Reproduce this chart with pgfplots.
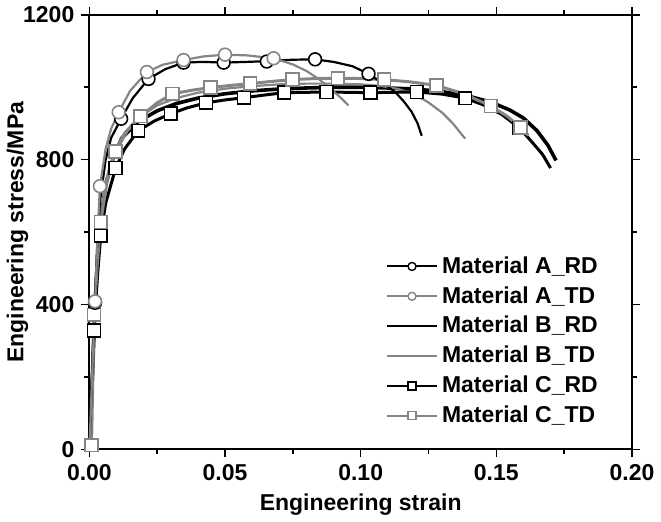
\documentclass[border=0pt]{standalone}
\usepackage{fontspec}
\setmainfont{Liberation Sans}
\usepackage{pgfplots}
\pgfplotsset{compat=1.18}
\usepackage{pgfplotstable}

\definecolor{grayLine}{HTML}{858585}

% curves: strain, stress (MPa)
\pgfplotstableread{
x y
0 0
0.001 200
0.002 405
0.003 580
0.004 690
0.006 800
0.008 860
0.0117 913
0.016 970
0.0218 1023
0.028 1050
0.0347 1068
0.042 1070
0.0495 1068
0.058 1070
0.0654 1072
0.075 1076
0.0832 1077
0.090 1070
0.097 1058
0.1029 1037
0.108 1012
0.1127 987
0.116 960
0.1188 932
0.121 900
0.1225 866
}\ARDline
\pgfplotstableread{
x y
0.0021 405
0.0117 913
0.0218 1023
0.0347 1068
0.0495 1068
0.0654 1071
0.0832 1077
0.1029 1037
}\ARDmark
\pgfplotstableread{
x y
0 0
0.001 200
0.0021 409
0.003 590
0.0039 727
0.006 830
0.008 885
0.0108 931
0.015 990
0.0212 1042
0.027 1062
0.0347 1075
0.042 1085
0.050 1090
0.058 1088
0.0679 1080
0.075 1063
0.080 1045
0.0845 1023
0.089 995
0.0925 972
0.0955 950
}\ATDline
\pgfplotstableread{
x y
0.0021 409
0.0039 727
0.0108 931
0.0212 1042
0.0347 1075
0.050 1090
0.0679 1080
}\ATDmark
\pgfplotstableread{
x y
0 0
0.001 180
0.002 380
0.003 530
0.004 620
0.006 730
0.009 810
0.012 860
0.018 905
0.025 935
0.032 955
0.040 970
0.050 982
0.060 990
0.070 995
0.080 998
0.090 1000
0.100 1000
0.110 998
0.120 995
0.130 988
0.140 975
0.148 959
0.155 937
0.160 915
0.165 880
0.169 840
0.172 798
}\BRDline
\pgfplotstableread{
x y
0 0
0.001 180
0.002 390
0.003 540
0.004 630
0.006 740
0.009 820
0.013 875
0.018 915
0.025 950
0.032 970
0.040 985
0.050 996
0.060 1003
0.070 1008
0.080 1010
0.090 1010
0.100 1008
0.108 1003
0.114 995
0.120 980
0.125 958
0.130 930
0.134 900
0.1385 858
}\BTDline
\pgfplotstableread{
x y
0 0
0.001 170
0.0017 329
0.003 480
0.0042 591
0.006 680
0.0097 777
0.013 830
0.018 880
0.024 907
0.030 927
0.036 943
0.043 957
0.050 965
0.057 971
0.064 978
0.0718 985
0.080 986
0.0874 987
0.095 986
0.1036 985
0.112 986
0.1207 987
0.130 981
0.1385 970
0.145 952
0.152 925
0.1585 888
0.163 850
0.167 815
0.170 777
}\CRDline
\pgfplotstableread{
x y
0.0017 329
0.0042 591
0.0097 777
0.018 880
0.030 927
0.043 957
0.057 971
0.0718 985
0.0874 987
0.1036 985
0.1207 987
0.1385 970
0.1585 888
}\CRDmark
\pgfplotstableread{
x y
0 0
0.0008 12
0.0017 372
0.003 520
0.0042 628
0.0065 740
0.0097 823
0.014 880
0.0189 920
0.025 957
0.0307 982
0.038 992
0.0446 999
0.052 1005
0.0593 1010
0.067 1016
0.0749 1021
0.083 1024
0.0916 1025
0.100 1024
0.1087 1021
0.118 1015
0.128 1005
0.138 982
0.148 948
0.154 920
0.1589 889
0.1618 867
}\CTDline
\pgfplotstableread{
x y
0.0008 12
0.0017 372
0.0042 628
0.0097 823
0.0189 920
0.0307 982
0.0446 999
0.0593 1010
0.0749 1021
0.0916 1025
0.1087 1021
0.128 1005
0.148 948
0.1589 889
}\CTDmark

\pgfplotsset{
  curve/.style={line width=1.1pt},
  dotsK/.style={only marks, mark size=3.2pt, mark options={fill=white, draw=black, line width=0.8pt}},
  dotsG/.style={only marks, mark size=3.2pt, mark options={fill=white, draw=grayLine, line width=0.8pt}},
}

\begin{document}
\begin{tikzpicture}
\begin{axis}[
  width=271.5pt, height=217.5pt, scale only axis,
  xmin=0, xmax=0.2, ymin=0, ymax=1200,
  xtick={0,0.05,0.1,0.15,0.2}, ytick={0,400,800,1200},
  minor x tick num=1, minor y tick num=1,
  tick align=outside, major tick length=4pt, minor tick length=2.5pt,
  axis line style={line width=1pt}, tick style={line width=0.75pt, black},
  clip=false,
  font=\fontsize{11.5}{13.5}\selectfont\bfseries,
  tick label style={font=\fontsize{11.5}{13.5}\selectfont\bfseries},
  /pgf/number format/assume math mode=true,
  xticklabel style={/pgf/number format/fixed, /pgf/number format/fixed zerofill,
    /pgf/number format/precision=2},
  yticklabel style={/pgf/number format/fixed, /pgf/number format/1000 sep={}},
  xlabel={Engineering strain}, ylabel={Engineering stress/MPa},
  label style={font=\fontsize{11.5}{13.5}\selectfont\bfseries},
  xlabel style={at={(axis description cs:0.5,0)}, anchor=center, yshift=-27.5pt},
  ylabel style={at={(axis description cs:0,0.5)}, anchor=center, yshift=36pt},
  legend style={draw=none, fill=none, at={(0.535,0.463)}, anchor=north west,
    font=\fontsize{11.5}{13.5}\selectfont\bfseries, row sep=1.1pt},
  legend cell align=left,
  legend image code/.code={\draw[#1] (0pt,0pt) -- (25pt,0pt);
    \draw[#1, only marks] plot coordinates {(12.5pt,0pt)};},
]
\addplot[curve, black, line width=1.8pt, forget plot] table {\BRDline};
\addplot[curve, grayLine, forget plot] table {\BTDline};
\addplot[curve, black, line width=1.5pt, forget plot] table {\CRDline};
\addplot[dotsK, mark=square*, forget plot] table {\CRDmark};
\addplot[curve, grayLine, line width=1.5pt, forget plot] table {\CTDline};
\addplot[dotsG, mark=square*, forget plot] table {\CTDmark};
\addplot[curve, black, forget plot] table {\ARDline};
\addplot[dotsK, mark=*, forget plot] table {\ARDmark};
\addplot[curve, grayLine, forget plot] table {\ATDline};
\addplot[dotsG, mark=*, forget plot] table {\ATDmark};

\addlegendimage{black, line width=1pt, mark=*, mark size=2pt, mark options={fill=white, draw=black, line width=0.7pt}}
\addlegendimage{grayLine, line width=1pt, mark=*, mark size=2pt, mark options={fill=white, draw=grayLine, line width=0.7pt}}
\addlegendimage{black, line width=1pt}
\addlegendimage{grayLine, line width=1pt}
\addlegendimage{black, line width=1pt, mark=square*, mark size=2pt, mark options={fill=white, draw=black, line width=0.7pt}}
\addlegendimage{grayLine, line width=1pt, mark=square*, mark size=2pt, mark options={fill=white, draw=grayLine, line width=0.7pt}}
\legend{Material A\_RD, Material A\_TD, Material B\_RD, Material B\_TD, Material C\_RD, Material C\_TD}
\end{axis}
\end{tikzpicture}
\end{document}
